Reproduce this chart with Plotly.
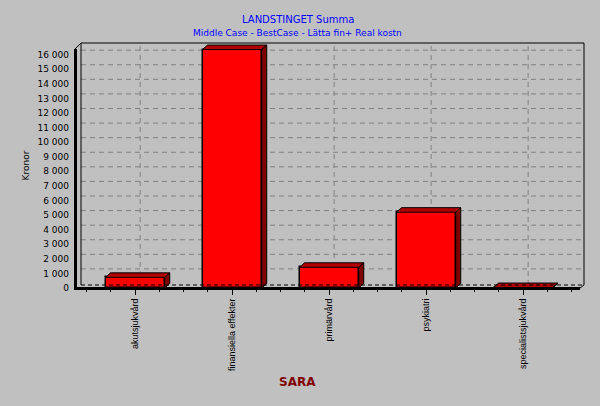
import plotly.graph_objects as go

# ---- data ----
categories = ["akutsjukvård", "finansiella effekter", "primärvård", "psykiatri", "specialistsjukvård"]
values = [730, 16350, 1420, 5200, 30]
y_ticks = list(range(0, 17000, 1000))
title_text = "LANDSTINGET Summa"
subtitle_text = "Middle Case - BestCase - Lätta fin+ Real kostn"
y_title = "Kronor"
x_title = "SARA"

# ---- geometry / style ----
W, H = 600, 406
L, R, T, B = 75, 15, 43, 118
PW, PH = W - L - R, H - T - B
X0 = -0.62
PX_PER_CAT = 97.0
XR = [X0, X0 + PW / PX_PER_CAT]
YR = [0, 16800]
BAR_W = 0.61
DX = 5.0 / PX_PER_CAT                       # depth offset (x units)
DY = 4.5 * (YR[1] - YR[0]) / PH             # depth offset (y units)
BG = "#C0C0C0"
GRID = dict(color="#808080", width=1, dash="5px,4px")

def px(x):
    return (x - L) / PW

def py(y):
    return (T + PH - y) / PH

idx = list(range(len(categories)))

fig = go.Figure()

# front faces
fig.add_trace(go.Bar(
    x=idx, y=values, width=BAR_W,
    marker=dict(color="#FF0000", line=dict(color="black", width=1.5)),
    showlegend=False, hoverinfo="x+y",
))

# top and side faces (3D look), derived from the data values
for i, v in zip(idx, values):
    xl, xr = i - BAR_W / 2, i + BAR_W / 2
    fig.add_trace(go.Scatter(
        x=[xl, xl + DX, xr + DX, xr, xl],
        y=[v, v + DY, v + DY, v, v],
        mode="lines", fill="toself", fillcolor="#B00000",
        line=dict(color="black", width=1), showlegend=False, hoverinfo="skip",
    ))
    if v > 0:
        fig.add_trace(go.Scatter(
            x=[xr, xr, xr + DX, xr + DX, xr],
            y=[0, v, v + DY, DY, 0],
            mode="lines", fill="toself", fillcolor="#800000",
            line=dict(color="black", width=1), showlegend=False, hoverinfo="skip",
        ))

shapes = []
# back-wall grid lines (below the bars)
for v in y_ticks[1:]:
    shapes.append(dict(type="line", layer="below", xref="paper", yref="y",
                       x0=px(81), x1=px(584), y0=v + DY, y1=v + DY, line=GRID))
for i in idx:
    shapes.append(dict(type="line", layer="below", xref="x", yref="paper",
                       x0=i + DX, x1=i + DX, y0=py(285), y1=py(43), line=GRID))

def seg(x0, y0, x1, y1, width=1, dash="solid", color="black"):
    shapes.append(dict(type="line", xref="paper", yref="paper",
                       x0=px(x0), y0=py(y0), x1=px(x1), y1=py(y1),
                       line=dict(color=color, width=width, dash=dash)))

# back wall frame
seg(81, 43, 584, 43)
seg(584, 43, 584, 285)
seg(81, 43, 81, 285)
seg(75, 49, 81, 43)
seg(81, 285, 584, 285, dash="4px,3px")
seg(580, 288, 584, 285)
# front axes
seg(75.5, 49, 75.5, 289, width=3)
seg(74, 288.5, 580, 288.5, width=3)

fig.update_layout(
    width=W, height=H,
    margin=dict(l=L, r=R, t=T, b=B, pad=0),
    paper_bgcolor=BG, plot_bgcolor=BG,
    separators=". ",
    shapes=shapes,
    xaxis=dict(range=XR, tickmode="array", tickvals=idx, ticktext=categories,
               tickangle=-90, showgrid=False, zeroline=False, showline=False,
               ticks="outside", ticklen=6, tickcolor="black",
               minor=dict(tickmode="linear", tick0=0, dtick=0.25, ticks="outside",
                          ticklen=3, tickcolor="black", showgrid=False),
               tickfont=dict(family="Liberation Sans", size=9, color="black")),
    yaxis=dict(range=YR, tickmode="array", tickvals=y_ticks, tickformat=",d",
               showgrid=False, zeroline=False, showline=False, ticks="",
               ticklabelstandoff=5,
               tickfont=dict(family="DejaVu Sans", size=9, color="black"),
               title=dict(text=y_title, standoff=6,
                          font=dict(family="DejaVu Sans", size=9, color="black"))),
    annotations=[
        dict(text=title_text, xref="paper", yref="paper", x=px(298), y=py(20),
             xanchor="center", yanchor="middle", showarrow=False,
             font=dict(family="DejaVu Sans", size=10, color="#0000FF")),
        dict(text=subtitle_text, xref="paper", yref="paper", x=px(297), y=py(33),
             xanchor="center", yanchor="middle", showarrow=False,
             font=dict(family="DejaVu Sans", size=9, color="#0000FF")),
        dict(text="<b>" + x_title + "</b>", xref="paper", yref="paper", x=px(297), y=py(382),
             xanchor="center", yanchor="middle", showarrow=False,
             font=dict(family="DejaVu Sans", size=12, color="#800000")),
    ],
    bargap=0,
)

fig.write_html("out.html", config={"displayModeBar": False},
               post_script="document.body.style.margin='0';")
